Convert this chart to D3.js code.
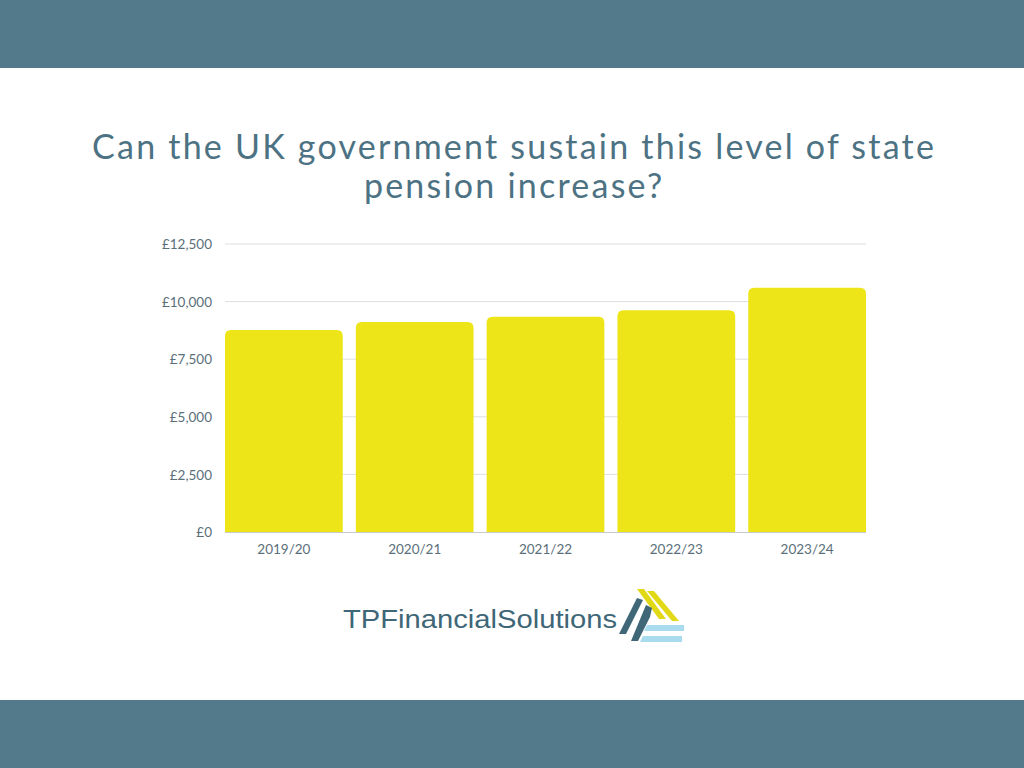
<!DOCTYPE html>
<html><head><meta charset="utf-8">
<script src="https://cdn.jsdelivr.net/npm/d3@7"></script>
<style>html,body{margin:0;padding:0;background:#fff;}svg{display:block;}</style>
</head><body>
<script>
const categories = ["2019/20","2020/21","2021/22","2022/23","2023/24"];
const values = [8767, 9110, 9339, 9628, 10600];
const yTicks = [0, 2500, 5000, 7500, 10000, 12500];
const titleLines = ["Can the UK government sustain this level of state","pension increase?"];
const logoText = "TPFinancialSolutions";

const W = 1024, H = 768;
const svg = d3.select("body").append("svg").attr("width", W).attr("height", H);

svg.append("rect").attr("x",0).attr("y",0).attr("width",W).attr("height",68).attr("fill","#527a8b");
svg.append("rect").attr("x",0).attr("y",700).attr("width",W).attr("height",68).attr("fill","#527a8b");

// Title
const tt = svg.append("g").attr("font-family","Lato, 'Open Sans', sans-serif").attr("font-weight",400)
  .attr("fill","#4c7283").attr("text-anchor","middle").attr("font-size",34);
titleLines.forEach((t,i)=>{
  tt.append("text").attr("x",513).attr("y",159 + i*38.5).text(t);
});
const first = tt.select("text");
const w0 = first.node().getComputedTextLength();
const n0 = titleLines[0].length;
const ls = (844 - w0) / n0;
tt.selectAll("text").attr("letter-spacing", ls).attr("x", 513 + ls/2);

const x = d3.scaleBand().domain(categories).range([225, 866]).paddingInner(0.1).paddingOuter(0);
const y = d3.scaleLinear().domain([0, 12500]).range([532, 244]);

// gridlines
svg.append("g").selectAll("line").data(yTicks.filter(d=>d>0)).join("line")
  .attr("x1",225).attr("x2",866).attr("y1",d=>y(d)).attr("y2",d=>y(d))
  .attr("stroke","#dcdfe2").attr("stroke-width",1);

// bars with rounded top corners
const r = 6;
svg.append("g").selectAll("path").data(values).join("path")
  .attr("fill","#ede517")
  .attr("d",(d,i)=>{
    const x0 = x(categories[i]), x1 = x0 + x.bandwidth(), y0 = y(d), yb = y(0);
    return `M${x0},${yb}V${y0+r}Q${x0},${y0} ${x0+r},${y0}H${x1-r}Q${x1},${y0} ${x1},${y0+r}V${yb}Z`;
  });

// baseline
svg.append("line").attr("x1",225).attr("x2",866).attr("y1",y(0)+0.5).attr("y2",y(0)+0.5)
  .attr("stroke","#c4c9cd").attr("stroke-width",1);

// y axis
const yAxis = d3.axisLeft(y).tickValues(yTicks).tickSize(0).tickPadding(0)
  .tickFormat(d => "£" + d3.format(",")(d));
const ya = svg.append("g").attr("transform","translate(212,0)").call(yAxis);
ya.select(".domain").remove();
ya.selectAll("text").attr("font-family","Lato, 'Open Sans', sans-serif").attr("font-size",13.5)
  .attr("fill","#5b6f7a").attr("dy","0.35em");

// x axis
const xAxis = d3.axisBottom(x).tickSize(0).tickPadding(0);
const xa = svg.append("g").attr("transform","translate(0,544)").call(xAxis);
xa.select(".domain").remove();
xa.selectAll("text").attr("font-family","Lato, 'Open Sans', sans-serif").attr("font-size",13.5)
  .attr("fill","#5b6f7a").attr("dy","0.71em");

// Logo
svg.append("text").attr("x",343).attr("y",628).attr("font-family","'Liberation Sans', Arial, sans-serif")
  .attr("font-size",26.5).attr("fill","#3f6778").text(logoText)
  .attr("textLength",274).attr("lengthAdjust","spacingAndGlyphs");
const logo = svg.append("g");
const poly = (pts, c) => logo.append("polygon").attr("points", pts.map(p=>p.join(",")).join(" ")).attr("fill", c);
poly([[637,589],[644,589],[666,619],[659,619]], "#e2d916");
poly([[647,591],[654,591],[679,621],[672,621]], "#e2d916");
poly([[619,634],[626,634],[643,600],[637,598]], "#3f6778");
poly([[631,641],[638,641],[650,617],[652,608],[646,605]], "#3f6778");
poly([[647,625],[684,625],[684,631],[644,631]], "#a9dcef");
poly([[643,636],[682,636],[682,642],[640,642]], "#a9dcef");
</script>
</body></html>
